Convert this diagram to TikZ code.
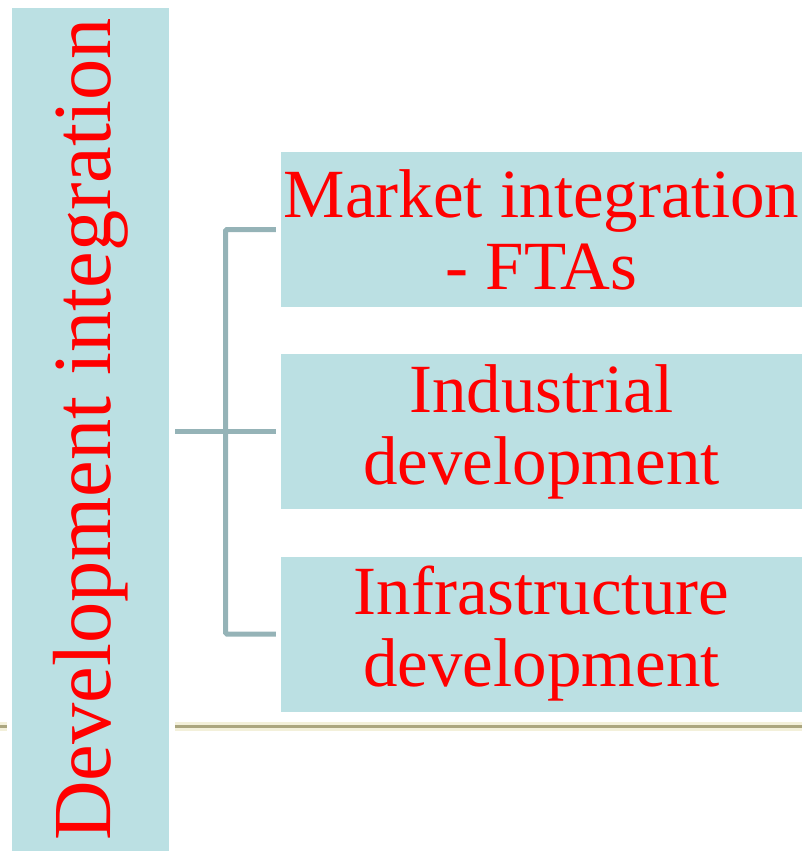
\documentclass[tikz,border=0pt]{standalone}
\usepackage{fontspec}
\setmainfont{Liberation Serif}
\usetikzlibrary{calc}

\definecolor{boxblue}{HTML}{BBE0E3}
\definecolor{bracketgray}{HTML}{95B3B7}
\definecolor{footerline}{HTML}{ABA67F}
\definecolor{footerglow}{HTML}{F3F0DA}

\begin{document}
\begin{tikzpicture}[x=1pt,y=-1pt]
\tikzstyle{topic} =[rectangle,fill=boxblue,text=red,inner sep=0pt,align=center]
\tikzstyle{branch} =[topic,minimum width=521pt,minimum height=155pt,font=\fontsize{69}{72}\selectfont]
\tikzstyle{bracket} =[draw=bracketgray,line width=5pt,rounded corners=1.5pt]
\useasboundingbox (0,0) rectangle (802,851);

% footer rule of the slide
\draw[footerglow,line width=9pt] (0,726) -- (802,726);
\draw[footerline,line width=3pt] (0,726) -- (802,726);
\fill[white] (7,0) rectangle (175,851);

\node[topic,rotate=90,minimum width=843pt,minimum height=157pt,font=\fontsize{82.5}{85}\selectfont](devint) at (90.5,429.5) {\raisebox{-4pt}{Development integration}};

\node[branch](market) at (541.5,229.5) {Market integration\\- FTAs};
\node[branch](industry) at (541.5,431.5) {Industrial\\development};
\node[branch](infra) at (541.5,634) {Infrastructure\\development};

\coordinate (fork) at (225.5,431.5);
\draw[bracket] ([xshift=-5pt]market.west) -| (fork) |- ([xshift=-5pt]infra.west);
\draw[bracket,shorten <=6pt,shorten >=5pt] (devint.south |- industry.west) -- (industry.west);
\end{tikzpicture}
\end{document}
